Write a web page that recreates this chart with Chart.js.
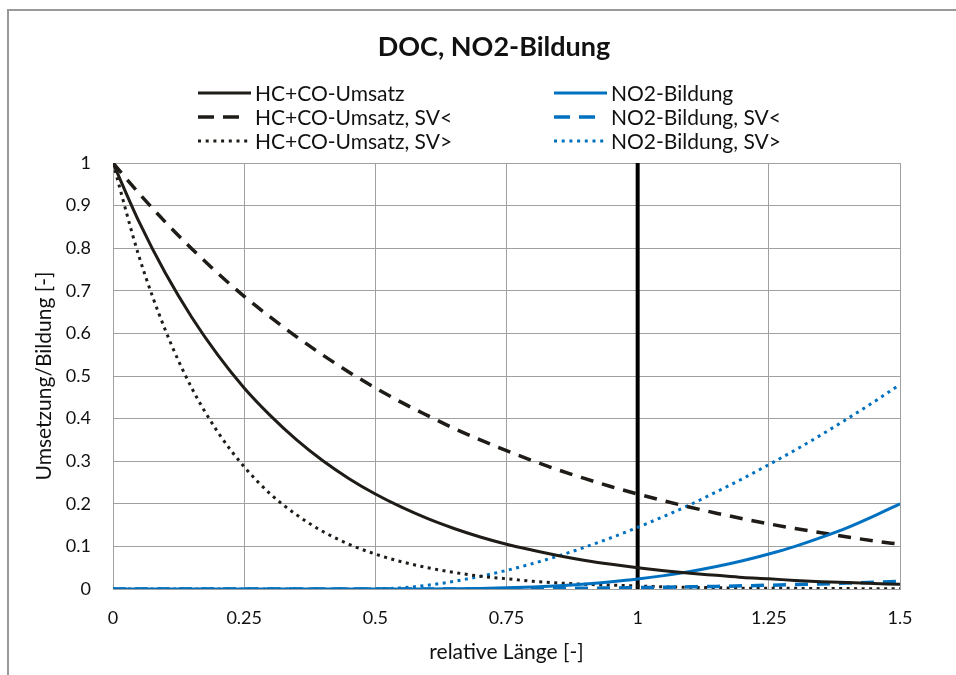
<!DOCTYPE html>
<html>
<head>
<meta charset="utf-8">
<script src="https://cdn.jsdelivr.net/npm/chart.js@4/dist/chart.umd.min.js"></script>
<style>
  html, body { margin: 0; padding: 0; background: #fff; }
  #wrap { width: 956px; height: 675px; position: relative; }
</style>
</head>
<body>
<div id="wrap"><canvas id="c" width="956" height="675"></canvas></div>
<script>
// relative Länge, Stützstellen
const laenge = [0, 0.05, 0.1, 0.15, 0.2, 0.25, 0.3, 0.35, 0.4, 0.45, 0.5,
  0.55, 0.6, 0.65, 0.7, 0.75, 0.8, 0.85, 0.9, 0.95, 1.0,
  1.05, 1.1, 1.15, 1.2, 1.25, 1.3, 1.35, 1.4, 1.45, 1.5];

// HC+CO-Umsatz (Restanteil)
const hcco = [1, 0.861, 0.741, 0.638, 0.549, 0.472, 0.407, 0.350, 0.301, 0.259, 0.223,
  0.192, 0.165, 0.142, 0.122, 0.105, 0.091, 0.078, 0.067, 0.058, 0.050,
  0.043, 0.037, 0.032, 0.027, 0.024, 0.020, 0.017, 0.015, 0.013, 0.011];
const hccoSvKlein = [1, 0.928, 0.861, 0.799, 0.741, 0.687, 0.638, 0.592, 0.549, 0.509, 0.472,
  0.438, 0.407, 0.377, 0.350, 0.325, 0.301, 0.279, 0.259, 0.240, 0.223,
  0.207, 0.192, 0.178, 0.165, 0.153, 0.142, 0.132, 0.122, 0.113, 0.105];
const hccoSvGross = [1, 0.779, 0.607, 0.472, 0.368, 0.287, 0.223, 0.174, 0.135, 0.105, 0.082,
  0.064, 0.050, 0.039, 0.030, 0.024, 0.018, 0.014, 0.011, 0.009, 0.007,
  0.005, 0.004, 0.003, 0.002, 0.002, 0.0015, 0.001, 0.001, 0.0006, 0.0006];

// NO2-Bildung
const no2 = [0, 0, 0, 0, 0, 0, 0, 0, 0, 0, 0,
  0.00002, 0.00016, 0.0006, 0.0014, 0.0027, 0.0048, 0.0077, 0.0117, 0.0169, 0.0233,
  0.0314, 0.041, 0.0526, 0.0662, 0.082, 0.100, 0.121, 0.144, 0.171, 0.2];
const no2SvKlein = [0, 0, 0, 0, 0, 0, 0, 0, 0, 0, 0,
  0, 0.00006, 0.0001, 0.0003, 0.0006, 0.0009, 0.0013, 0.0018, 0.0024, 0.0032,
  0.004, 0.005, 0.0061, 0.0074, 0.0088, 0.0103, 0.012, 0.0138, 0.0158, 0.018];
const no2SvGross = [0, 0, 0, 0, 0, 0, 0, 0, 0, 0, 0.0005,
  0.0027, 0.0089, 0.018, 0.0297, 0.0436, 0.0598, 0.078, 0.0984, 0.1206, 0.1447,
  0.1706, 0.198, 0.228, 0.259, 0.292, 0.326, 0.362, 0.400, 0.439, 0.48];

// Markierung bei relativer Länge 1
const markerX = [1, 1];
const markerY = [0, 1];

const xTicks = [0, 0.25, 0.5, 0.75, 1, 1.25, 1.5];

const DARK = '#1f1c17';
const BLUE = '#0070c0';
const FONT = 'Lato, "Open Sans", sans-serif';

const toPts = (xs, ys) => xs.map((x, i) => ({ x: x, y: ys[i] }));

// style: solid / dashed / dotted
const DASHES = { solid: [], dashed: [13, 9], dotted: [3, 4.5] };
const LEGEND_DASHES = { solid: [], dashed: [16, 9], dotted: [3, 4.7] };
const LEGEND_LEN = { solid: 53, dashed: 41, dotted: 50 };

const series = [
  { label: 'HC+CO-Umsatz', data: hcco, color: DARK, style: 'solid', width: 3 },
  { label: 'NO2-Bildung', data: no2, color: BLUE, style: 'solid', width: 3 },
  { label: 'HC+CO-Umsatz, SV<', data: hccoSvKlein, color: DARK, style: 'dashed', width: 3.5 },
  { label: 'NO2-Bildung, SV<', data: no2SvKlein, color: BLUE, style: 'dashed', width: 3.5 },
  { label: 'HC+CO-Umsatz, SV>', data: hccoSvGross, color: DARK, style: 'dotted', width: 3 },
  { label: 'NO2-Bildung, SV>', data: no2SvGross, color: BLUE, style: 'dotted', width: 3 }
];

const datasets = series.map(s => ({
  label: s.label,
  data: toPts(laenge, s.data),
  borderColor: s.color,
  backgroundColor: s.color,
  borderWidth: s.width,
  borderDash: DASHES[s.style],
  pointRadius: 0,
  cubicInterpolationMode: 'monotone',
  fill: false
}));
datasets.push({
  label: 'Markierung',
  data: toPts(markerX, markerY),
  borderColor: '#000',
  borderWidth: 4,
  pointRadius: 0,
  fill: false
});

// grey frame around the chart
const framePlugin = {
  id: 'frame',
  beforeDraw(chart) {
    const ctx = chart.ctx;
    ctx.save();
    ctx.fillStyle = '#fff';
    ctx.fillRect(0, 0, chart.width, chart.height);
    ctx.strokeStyle = '#999';
    ctx.lineWidth = 2;
    ctx.strokeRect(8, 10, 2000, 2000);
    ctx.restore();
  }
};

// two-column legend with line samples
const legendPlugin = {
  id: 'twoColLegend',
  afterDraw(chart) {
    const ctx = chart.ctx;
    const cols = [198, 554];
    const rows = [93, 117, 141];
    ctx.save();
    ctx.font = '21px ' + FONT;
    ctx.textBaseline = 'middle';
    ctx.fillStyle = '#111';
    series.forEach((s, i) => {
      const x = cols[i % 2];
      const y = rows[Math.floor(i / 2)];
      ctx.beginPath();
      ctx.strokeStyle = s.color;
      ctx.lineWidth = s.width;
      ctx.setLineDash(LEGEND_DASHES[s.style]);
      ctx.moveTo(x, y);
      ctx.lineTo(x + LEGEND_LEN[s.style], y);
      ctx.stroke();
      ctx.setLineDash([]);
      ctx.fillText(s.label, x + 57, y + 1);
    });
    ctx.restore();
  }
};

new Chart(document.getElementById('c'), {
  type: 'line',
  data: { datasets: datasets },
  plugins: [framePlugin, legendPlugin],
  options: {
    responsive: false,
    animation: false,
    layout: { padding: { left: 32, right: 0, top: 0, bottom: 0 } },
    plugins: {
      legend: { display: false },
      tooltip: { enabled: false },
      title: {
        display: true,
        text: 'DOC, NO2-Bildung',
        color: '#111',
        font: { family: FONT, size: 27, weight: 'bold', lineHeight: 1.2 },
        padding: { top: 31, bottom: 99.6 }
      }
    },
    scales: {
      x: {
        type: 'linear',
        min: 0,
        max: 1.5,
        afterBuildTicks(scale) { scale.ticks = xTicks.map(v => ({ value: v })); },
        afterFit(scale) { scale.height = 86; },
        ticks: {
          color: '#111',
          font: { family: FONT, size: 18 },
          padding: 18,
          maxRotation: 0,
          callback: v => String(v)
        },
        grid: { color: '#a0a0a0', lineWidth: 1, drawTicks: false },
        border: { color: '#a0a0a0' },
        title: {
          display: true,
          text: 'relative Länge [-]',
          color: '#111',
          font: { family: FONT, size: 21 },
          padding: { top: 0, bottom: 10 }
        }
      },
      y: {
        type: 'linear',
        min: 0,
        max: 1,
        ticks: {
          stepSize: 0.1,
          color: '#111',
          font: { family: FONT, size: 18 },
          padding: 22,
          callback: v => String(Math.round(v * 10) / 10)
        },
        afterFit(scale) { scale.width = 81; },
        grid: { color: '#a0a0a0', lineWidth: 1, drawTicks: false },
        border: { color: '#a0a0a0' },
        title: {
          display: true,
          text: 'Umsetzung/Bildung [-]',
          color: '#111',
          font: { family: FONT, size: 21 },
          padding: { top: 0, bottom: 0 }
        }
      },
      // empty right-hand band keeping the plot clear of the frame edge
      rand: {
        type: 'linear',
        position: 'right',
        display: true,
        ticks: { display: false },
        grid: { display: false, drawOnChartArea: false },
        border: { display: false },
        afterFit(scale) { scale.width = 56; }
      }
    }
  }
});
</script>
</body>
</html>
